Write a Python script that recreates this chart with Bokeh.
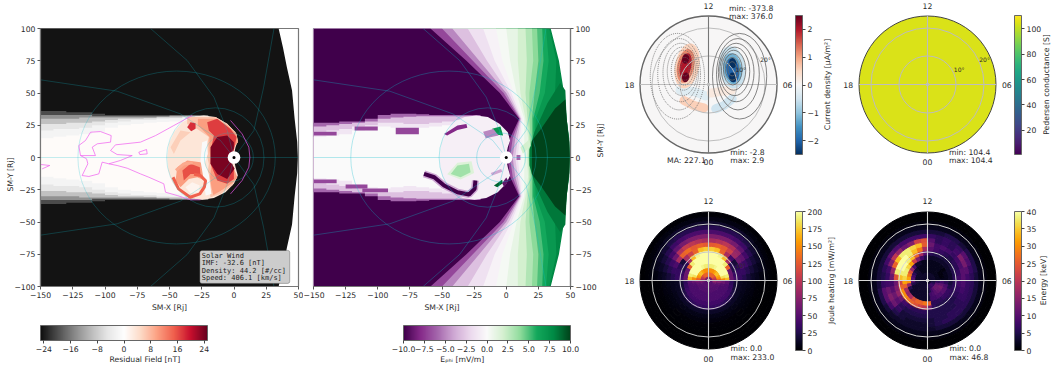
from math import pi
from bokeh.plotting import figure
from bokeh.layouts import row, column
from bokeh.models import (AllLabels, ColorBar, FixedTicker, Label, LinearColorMapper, Range1d, BoxAnnotation)
from bokeh.core.properties import value
from bokeh.palettes import interp_palette, Viridis256, Inferno256
from bokeh.embed import file_html
from bokeh.resources import INLINE

FONT = "DejaVu Sans"
TXT = "#2a2a2a"
FS = "7.7px"

# ---------------- tick labels ----------------
x_ticks = [-150, -125, -100, -75, -50, -25, 0, 25, 50]
y_ticks = [-100, -75, -50, -25, 0, 25, 50, 75, 100]
resid_ticks = [-24, -16, -8, 0, 8, 16, 24]
ephi_ticks = [-10.0, -7.5, -5.0, -2.5, 0.0, 2.5, 5.0, 7.5, 10.0]
curr_ticks = [-2, -1, 0, 1, 2]
pede_ticks = [20, 40, 60, 80, 100]
joule_ticks = [0, 25, 50, 75, 100, 125, 150, 175, 200]
energy_ticks = [0, 5, 10, 15, 20, 25, 30, 35, 40]

# ---------------- colour maps ----------------
resid_cols = ["#0f0f0f", "#4d4d4d", "#878787", "#bababa", "#e6e6e6", "#ffffff",
              "#fddbc7", "#fca082", "#f0604d", "#c8102e", "#67001f"]
ephi_cols = ["#40004b", "#862a8a", "#a466ac", "#cfa8d4", "#ecd9ee", "#fbfbfb",
             "#d4f0cf", "#90dc9c", "#14a85c", "#008a45", "#00441b"]
curr_cols = ["#053061", "#2166ac", "#4393c3", "#92c5de", "#d1e5f0", "#f7f7f7",
             "#fddbc7", "#f4a582", "#d6604d", "#b2182b", "#67001f"]
resid_map = LinearColorMapper(palette=interp_palette(resid_cols, 256), low=-25, high=25)
ephi_map = LinearColorMapper(palette=interp_palette(ephi_cols, 256), low=-10, high=10)
curr_map = LinearColorMapper(palette=interp_palette(curr_cols, 256), low=-2.5, high=2.5)
pede_map = LinearColorMapper(palette=Viridis256, low=1, high=110.5)
joule_map = LinearColorMapper(palette=Inferno256, low=0, high=200)
energy_map = LinearColorMapper(palette=Inferno256, low=0, high=40)

# ---------------- equatorial panels: shared geometry ----------------
bow_x = [34.6, 38, 41, 45, 47, 49, 49.5, 49, 47, 45, 41, 38, 34.6, -150, -150]
bow_y = [100, 85, 70, 52, 30, 12, 0, -12, -30, -52, -70, -85, -100, -100, 100]

disc_x = [-51.8, -50.5, -46.6, -40.2, -32.4, -23.4, -14.3, -5.3, 1.2, 3, 1.2, -0.4,
          1.2, 3, -0.1, -6.6, -15.6, -24.7, -33.7, -41.5, -47.9, -51]
disc_y = [0.2, 10.6, 19.6, 27.4, 31.3, 32.6, 31.3, 26.1, 19.6, 13.2, 8, 0.2,
          -7.5, -14, -20.4, -26.9, -31.3, -32.8, -31.3, -26.9, -19.1, -10]

tail_steps = [-150, -140, -130, -120, -110, -100, -90, -80, -70, -60, -50, -40, -30, -20]
resid_tail_v = [-20, -14, -9, -5, -2, 0.4]
resid_tail_up = [
    [36, 36, 35, 35, 34, 33, 33, 33, 33, 33, 33, 33, 33],
    [33, 33, 33, 33, 32, 32, 32, 32, 32, 32, 32.5, 32.5, 32.5],
    [30, 30, 30, 31, 31, 31, 31, 31, 31, 31.5, 32, 32, 32],
    [26, 26, 27, 27, 28, 29, 30, 30, 30.5, 31, 31, 31.5, 32],
    [21, 22, 22, 23, 25, 27, 28, 29, 29, 30, 30.5, 31, 31.5],
    [15, 16, 17, 18, 20, 23, 25, 26, 27, 27.5, 28, 30, 31],
]
ephi_tail_v = [-6, -3, -1.2, 0]
ephi_tail_up = [
    [27, 27, 28, 28, 30, 33, 34, 34, 33.5, 33, 33, 33, 33],
    [24, 25, 26, 27, 28, 30, 31, 31.5, 32, 32, 32, 32, 32],
    [20, 21, 22, 24, 25, 27, 27, 26, 26, 27, 28, 29, 30],
    [16, 17, 18, 21, 23, 24, 23, 22, 23, 24, 25, 26, 27],
]


def stairs(up):
    xs, ys = [], []
    for i, u in enumerate(up):
        xs += [tail_steps[i], tail_steps[i + 1]]
        ys += [u, u]
    return xs + xs[::-1], ys + [-u for u in ys[::-1]]


# residual field blotches inside the disc
resid_blob_v = [3.5, 7, 10, 17, 24, 10, 16, 1.5, 18, -1, 6]
resid_blob_x = [
    disc_x,
    [-36.3, -14.3, -5.3, 2, 3, -0.1, -2.7, -0.1, 2.5, -1.4, -10.5, -18.2, -19.5, -20.8, -19.5, -22, -19.5, -28.5, -36.3],
    [-28, -14.3, -5.3, 2, 3, -0.1, -2.7, -0.1, 2.5, -1.4, -10.5, -16, -17.5, -18.5, -17.5, -19, -19, -24, -28],
    [-20.8, -13, -2.7, 2, -0.1, -2.7, -0.1, -0.1, -5.3, -13, -18.2, -17.5, -15.6, -19.5],
    [-13, -5.3, -0.1, -0.1, -4.5, 0.5, -5.3, -13, -18.2, -18.2],
    [-44, -36.3, -26, -20.8, -22.8, -28.5, -35, -41.5, -45.3],
    [-40, -33.7, -26.5, -26, -33.7, -38.9],
    [-37.6, -32.4, -26.5, -27.5, -33.7],
    [-36.3, -33.7, -29.8, -29.8, -33.2],
    [-24.7, -20.8, -20.3, -22.8, -19.5, -17.5, -22, -23.4, -26],
    [-49.2, -41.5, -33.7, -41.5, -46.6],
]
resid_blob_y = [
    disc_y,
    [31.3, 31.3, 26.1, 18.3, 11.9, 8, 0.2, -8.8, -15.3, -21.7, -28.2, -30.8, -23, -15.3, -4.9, 5.4, 15.8, 22, 26],
    [30, 30, 25, 18.3, 11.9, 8, 0.2, -8.8, -15.3, -20, -26, -29, -23, -15.3, -4.9, 5.4, 15.8, 21, 25],
    [27.4, 30, 22, 15.8, 5.4, 0.2, -10.1, -16.6, -20.4, -17.8, -4.9, 8, 17, 21],
    [15.8, 17, 11.9, 6.7, 0.2, -8.8, -16.6, -12.7, -4.9, 8],
    [-7.5, -2.3, -3.6, -10.1, -17.8, -15.3, -16.6, -23, -17.8],
    [-10.1, -4.9, -7.5, -12.7, -12.7, -17.8],
    [-23, -19.1, -21.7, -26.9, -27.7],
    [23.5, 27.4, 26.6, 22.2, 20.4],
    [11.9, 13.2, 2.8, -4.9, -12.7, -28.2, -29.5, -17.8, -2.3],
    [8, 20.9, 19.6, 13.2, 2.8],
]
resid_hook_x = [[-47.3, -43, -34, -26.5, -23, -22, -26, -31],
                [-45, -39, -32]]
resid_hook_y = [[-15.3, -24.3, -30.8, -28.2, -23, -18, -14, -13],
                [-10, -5, -4]]
resid_hook_v = [15, 9]

# magenta contour of the residual field
contour_x = [
    [-32.4, -46.6, -60.8, -72.5, -91.9, -95.7, -90.6, -78.9, -88, -97, -90.6, -82.8, -72.5, -66, -54.4, -53.1, -44, -33.7, -26],
    [-111.2, -103.5, -95.2, -95.7, -106, -109.9, -107.4, -119, -120.3, -115.1, -111.2],
    [-119, -114.3, -113.3, -117.7, -112.5, -104.8, -102.2, -97],
    [-73.8, -67.8, -67.3, -73, -73.8],
    [-150, -142.8, -148.7],
    [-2.7, 6.3, 11.5, 12.3, 11.5, 6.3, -2.7],
]
contour_y = [
    [32.6, 24.8, 17, 11.9, 9.8, 5.4, 2.3, 1.5, -2.3, -4.9, -6.2, -8.3, -12.7, -15.3, -20.4, -26.9, -29.5, -32.8, -32.8],
    [19.6, 20.1, 17, 11.9, 10.6, 8, 1.5, 1.5, 9.3, 13.2, 19.6],
    [1.5, -1, -4.9, -14, -14.7, -12.7, -3.6, -4.9],
    [4.1, 6.2, 2.8, 2.3, 4.1],
    [-5.4, -6.2, -8.8],
    [28.7, 18.3, 8, 0.2, -7.5, -17.8, -28.2],
]

# overlaid coordinate lines
grid_line_x = [
    [-64.7, -36.3, -15.6, -5.3, 0], [-64.7, -36.3, -15.6, -5.3, 0],
    [-150, -90.6, -41.5, -10.5, 0], [-150, -90.6, -41.5, -10.5, 0],
    [31, 23, 15.4, 0], [31, 23, 15.4, 0], [-150, 50],
]
grid_line_y = [
    [100, 75.2, 46.8, 20.9, 0], [-100, -75.2, -46.8, -20.9, 0],
    [60.2, 51.4, 33.8, 13.2, 0], [-60.2, -51.4, -33.8, -13.2, 0],
    [100, 54.5, 20.9, 0], [-100, -54.5, -20.9, 0], [0, 0],
]
grid_oval_x = [-44.5, -14.5, -4]
grid_oval_w = [153, 75.5, 38]
grid_oval_h = [134, 77, 38]

# ---------------- E_phi ----------------
level_y = [100, 75, 50, 30, 15, 0]
level_v = [8, 7, 6, 5, 4, 3, 2, 1, 0.3, -0.5, -1.5, -3, -5, -7, -10]
level_x = [
    [34.6, 41, 45, 47, 49, 49.5],
    [33.5, 39, 38, 27, 24, 21],
    [31, 33, 30, 23, 22, 19],
    [28, 29, 26, 21, 21, 18.5],
    [24, 25, 22, 20, 20, 18],
    [20, 21, 18, 18, 19, 17.5],
    [15, 16, 15, 16.5, 18, 17],
    [9, 9, 11, 15, 17, 16],
    [0, 3, 8, 14, 14, 14],
    [-8, -3, 6, 13, 12, 12],
    [-18, -9, 4, 12, 10.5, 9],
    [-30, -15, 2, 11.5, 9, 7],
    [-42, -21, 0, 11, 7, 5],
    [-50, -26, -2, 10.5, 5, 3],
    [-59, -31, -5, 10, 3, 1],
]
nose_v = [8.5, 10]
nose_x = [
    [18, 22, 32, 42, 46, 47, 49, 49.5, 49, 47, 46, 42, 32, 22, 18],
    [20, 20, 27, 38, 46, 47, 49, 49.5, 49, 47, 46, 38, 27, 20, 20],
]
nose_y = [
    [6, 20, 42, 58, 52, 30, 12, 0, -12, -30, -52, -58, -42, -20, -6],
    [3, 13, 22, 38, 45, 30, 12, 0, -12, -30, -45, -38, -22, -13, -3],
]
ephi_blob_v = [-7, -7, -7, -7, -7, -7, -0.7, -8, 1.5, 3.5, 7, 9, -9, -5, -4, -6, 2]
ephi_blob_x = [
    [-150, -132, -132, -150], [-118, -100, -100, -118], [-86, -68, -68, -86],
    [-150, -132, -132, -150], [-125, -108, -108, -125], [-112, -92, -92, -112],
    disc_x,
    [-48.4, -38, -31, -30.3, -38, -46],
    [-46, -38, -27, -25, -35.5],
    [-43.2, -38, -29, -27.7, -35.5],
    [-11, -4.5, -2.4, -8.4],
    [-9.6, -3.2, -2.7, -7],
    [-3.2, 0, 1.5, -1.5],
    [-18, -10, -6, -16],
    [-12, -4, -3, -11],
    [8, 11, 11, 8],
    [11, 18, 19, 13],
]
ephi_blob_y = [
    [20, 20, 17, 17], [24, 24, 21, 21], [23, 23, 18, 18],
    [-17, -17, -20, -20], [-21, -21, -24, -24], [-24, -24, -27, -27],
    disc_y,
    [18.3, 24.8, 26, 23, 21.4, 17],
    [-13, -4, -3, -12, -17],
    [-12.7, -6.2, -4.9, -11.4, -15.3],
    [22.2, 24, 17, 17.8],
    [-21.7, -17.3, -19.9, -23],
    [-20, -15.5, -18, -23],
    [20, 22, 17, 15],
    [-12, -9, -11, -14],
    [2, 2, -2, -2],
    [8, 14, 9, 3],
]
hook_x = [-64, -56, -48.4, -38, -29, -24.6, -24]
hook_y = [-12.7, -15.3, -21.7, -26.9, -28.7, -24.3, -17.8]

# ---------------- polar panels ----------------
ring_edges = [0, 1.5, 3, 4.5, 6, 7.5, 9, 10.5, 12, 13.5, 15, 16.5, 18, 19.5, 21, 22.5, 24]
sector_start = [0, 10, 20, 30, 40, 50, 60, 70, 80, 90, 100, 110, 120, 130, 140, 150, 160, 170,
                180, 190, 200, 210, 220, 230, 240, 250, 260, 270, 280, 290, 300, 310, 320, 330, 340, 350]
joule_rings = [
    [70, 70, 70, 70, 70, 70, 70, 70, 70, 70, 70, 70, 70, 70, 70, 70, 70, 70,
     50, 50, 50, 50, 50, 50, 50, 50, 50, 50, 50, 50, 50, 50, 50, 50, 50, 50],
    [90, 100, 110, 120, 130, 130, 130, 130, 130, 130, 130, 130, 130, 130, 120, 110, 100, 90,
     80, 65, 55, 50, 50, 50, 50, 50, 50, 50, 50, 50, 50, 50, 50, 55, 65, 80],
    [130, 150, 160, 170, 170, 160, 150, 150, 150, 150, 150, 150, 160, 170, 170, 160, 150, 130,
     70, 55, 50, 48, 48, 48, 48, 48, 48, 48, 48, 48, 48, 48, 48, 50, 55, 70],
    [150, 185, 200, 200, 200, 200, 195, 190, 190, 190, 190, 195, 200, 200, 200, 200, 185, 150,
     60, 48, 45, 45, 45, 45, 45, 45, 45, 45, 45, 45, 45, 45, 45, 45, 48, 60],
    [170, 190, 200, 200, 200, 200, 200, 200, 200, 200, 200, 200, 200, 200, 200, 200, 190, 170,
     50, 45, 45, 45, 45, 45, 45, 45, 45, 45, 45, 45, 45, 45, 45, 45, 45, 50],
    [60, 60, 60, 130, 190, 200, 200, 200, 200, 200, 200, 200, 200, 190, 130, 60, 60, 60,
     32, 35, 38, 40, 40, 40, 40, 40, 40, 40, 40, 40, 40, 40, 40, 38, 35, 32],
    [40, 35, 25, 30, 90, 170, 195, 200, 200, 200, 200, 195, 170, 90, 30, 25, 35, 40,
     18, 20, 24, 28, 30, 32, 34, 34, 34, 34, 34, 34, 32, 30, 28, 24, 20, 18],
    [35, 35, 30, 20, 40, 90, 130, 170, 175, 175, 170, 130, 110, 90, 20, 30, 35, 35,
     12, 12, 13, 14, 14, 14, 14, 14, 14, 14, 14, 14, 14, 14, 14, 13, 12, 12],
    [28, 35, 45, 60, 85, 110, 125, 130, 125, 125, 130, 125, 135, 130, 90, 45, 35, 28,
     10, 10, 9, 9, 8, 8, 8, 8, 8, 8, 8, 8, 8, 8, 9, 9, 10, 10],
    [20, 28, 38, 55, 80, 95, 100, 95, 90, 90, 95, 100, 105, 95, 60, 38, 28, 20,
     8, 7, 6, 6, 5, 5, 5, 5, 5, 5, 5, 5, 5, 5, 6, 6, 7, 8],
    [14, 20, 28, 40, 55, 65, 70, 70, 70, 70, 70, 70, 65, 55, 40, 28, 20, 14,
     5, 5, 4, 4, 3, 3, 3, 3, 3, 3, 3, 3, 3, 3, 4, 4, 5, 5],
    [10, 14, 20, 28, 38, 42, 45, 45, 45, 45, 45, 45, 42, 38, 28, 20, 14, 10,
     3, 3, 2, 2, 2, 2, 2, 2, 2, 2, 2, 2, 2, 2, 2, 2, 3, 3],
    [6, 10, 14, 18, 24, 28, 28, 28, 28, 28, 28, 28, 28, 24, 18, 14, 10, 6,
     2, 2, 1, 1, 1, 1, 1, 1, 1, 1, 1, 1, 1, 1, 1, 1, 2, 2],
    [4, 6, 8, 10, 13, 15, 15, 15, 15, 15, 15, 15, 15, 13, 10, 8, 6, 4,
     1, 1, 0, 0, 0, 0, 0, 0, 0, 0, 0, 0, 0, 0, 0, 0, 1, 1],
    [2, 3, 4, 5, 6, 6, 7, 7, 7, 7, 7, 7, 6, 6, 5, 4, 3, 2,
     0, 0, 0, 0, 0, 0, 0, 0, 0, 0, 0, 0, 0, 0, 0, 0, 0, 0],
    [0, 1, 1, 2, 2, 2, 2, 2, 2, 2, 2, 2, 2, 2, 2, 1, 1, 0,
     0, 0, 0, 0, 0, 0, 0, 0, 0, 0, 0, 0, 0, 0, 0, 0, 0, 0],
]
energy_rings = [
    [3, 3, 3, 3, 3, 3, 3, 3, 3, 3, 3, 3, 3, 3, 3, 3, 3, 3,
     3, 3, 3, 3, 3, 3, 3, 3, 3, 3, 3, 3, 3, 3, 3, 3, 3, 3],
    [3, 3, 3, 3, 3, 3, 3, 3, 3, 3, 3, 3, 3, 3, 3, 3, 3, 3,
     3, 3, 3, 3, 3, 3, 3, 3, 4, 4, 5, 6, 7, 8, 7, 6, 5, 4],
    [2, 2, 2, 2, 2, 2, 2, 2, 2, 2, 2, 2, 2, 3, 3, 3, 3, 3,
     4, 4, 3, 3, 3, 3, 3, 3, 3, 3, 5, 8, 10, 12, 12, 12, 10, 6],
    [2, 1, 1, 1, 2, 2, 2, 2, 2, 2, 2, 2, 2, 3, 4, 6, 8, 10,
     10, 5, 3, 3, 3, 3, 3, 3, 3, 4, 8, 9, 10, 11, 12, 13, 11, 8],
    [2, 2, 2, 1, 2, 2, 2, 2, 2, 2, 2, 3, 3, 8, 16, 24, 28, 32,
     30, 16, 5, 3, 3, 3, 3, 3, 3, 4, 8, 8, 9, 9, 10, 10, 9, 6],
    [3, 3, 3, 3, 3, 3, 3, 3, 3, 5, 8, 14, 22, 32, 36, 38, 38, 36,
     32, 26, 18, 16, 18, 24, 26, 26, 28, 26, 6, 6, 6, 7, 7, 7, 5, 4],
    [6, 5, 5, 4, 4, 4, 5, 5, 6, 10, 18, 26, 34, 38, 40, 40, 38, 34,
     22, 26, 30, 30, 28, 26, 24, 22, 20, 12, 6, 5, 5, 5, 6, 6, 6, 6],
    [8, 7, 6, 6, 5, 6, 7, 8, 10, 18, 28, 34, 38, 40, 40, 40, 38, 24,
     12, 14, 16, 12, 8, 7, 6, 6, 6, 5, 5, 5, 5, 5, 5, 6, 7, 8],
    [10, 10, 9, 8, 7, 8, 9, 8, 12, 25, 34, 36, 38, 38, 34, 26, 16, 12,
     8, 10, 12, 10, 6, 5, 5, 5, 5, 5, 5, 5, 5, 5, 6, 7, 8, 9],
    [8, 10, 13, 14, 8, 6, 7, 6, 10, 24, 22, 14, 12, 16, 20, 14, 8, 7,
     8, 12, 14, 12, 7, 4, 4, 4, 4, 4, 5, 5, 6, 6, 6, 7, 7, 7],
    [6, 7, 9, 10, 7, 6, 7, 6, 7, 8, 8, 8, 8, 9, 10, 8, 6, 5,
     7, 10, 10, 8, 5, 4, 3, 3, 3, 4, 5, 6, 6, 6, 6, 6, 6, 6],
    [4, 5, 5, 5, 4, 5, 5, 4, 4, 4, 4, 4, 4, 4, 4, 4, 4, 4,
     4, 5, 5, 4, 3, 3, 3, 3, 3, 3, 4, 4, 4, 4, 4, 4, 4, 4],
    [2, 2, 2, 2, 2, 2, 2, 2, 2, 2, 2, 2, 2, 2, 2, 2, 2, 2,
     2, 2, 2, 2, 2, 2, 2, 2, 2, 2, 2, 2, 2, 2, 2, 2, 2, 2],
    [1, 1, 1, 1, 1, 1, 1, 1, 1, 1, 1, 1, 1, 1, 1, 1, 1, 1,
     1, 1, 1, 1, 1, 1, 1, 1, 1, 1, 1, 1, 1, 1, 1, 1, 1, 1],
    [0, 0, 0, 0, 0, 0, 0, 0, 0, 0, 0, 0, 0, 0, 0, 0, 0, 0,
     0, 0, 0, 0, 0, 0, 0, 0, 0, 0, 0, 0, 0, 0, 0, 0, 0, 0],
    [0, 0, 0, 0, 0, 0, 0, 0, 0, 0, 0, 0, 0, 0, 0, 0, 0, 0,
     0, 0, 0, 0, 0, 0, 0, 0, 0, 0, 0, 0, 0, 0, 0, 0, 0, 0],
]
# current density blobs: centre, size, tilt, value
curr_x = [-7.5, -8, -8, -8, -8, 8.3, 8.4, 8.5, 8.5, 8.5]
curr_y = [6.5, 6.5, 6.5, 9, 2.5, 6, 5.5, 5, 7.5, 2.5]
curr_w = [8.5, 6, 4, 2.5, 2.5, 9, 6.5, 4.5, 2.5, 2.5]
curr_h = [16, 12, 9, 3.5, 3.5, 15, 11, 8.5, 3.5, 3.5]
curr_a = [-0.2, -0.2, -0.2, -0.2, -0.2, 0.15, 0.15, 0.15, 0.15, 0.15]
curr_v = [0.55, 1.2, 2.0, 2.5, 2.5, -0.55, -1.2, -2.0, -2.5, -2.5]
curr_band_x = [[-8.6, -5, -1.6], [2.5, 5.4, 8.3], [-10, -5, -1], [1, 4, 8]]
curr_band_y = [[-5.6, -7.4, -8.2], [-8.5, -7.4, -5], [-2, -2.5, -4], [-3, -2.5, -2]]
curr_band_v = [0.6, -0.5, -0.3, 0.25]
cont_x = [8.3, 8.3, 8.5, 8.8, 9.2, 9.7, 10.3, 10.9]
cont_y = [5.5, 5.5, 5.3, 5, 4.6, 4.2, 3.6, 2.9]
cont_w = [3, 4.8, 6.6, 8.5, 10.5, 12.5, 15, 19]
cont_h = [5, 8, 11, 14, 17, 20.5, 25, 30]

pede_value = [104.4]


# ---------------- helpers ----------------
def style_axes(p):
    for ax in (p.xaxis[0], p.yaxis[0]):
        ax.major_label_text_font = FONT
        ax.major_label_text_font_size = FS
        ax.major_label_text_color = TXT
        ax.major_label_standoff = 2
        ax.axis_label_text_font = FONT
        ax.axis_label_text_font_size = FS
        ax.axis_label_text_font_style = "normal"
        ax.axis_label_text_color = TXT
        ax.axis_line_color = "#777777"
        ax.axis_line_width = 1.2
        ax.major_tick_line_color = "#555555"
        ax.major_tick_out = 3
        ax.major_tick_in = 0
        ax.minor_tick_line_color = None
    p.xaxis[0].ticker = FixedTicker(ticks=x_ticks)
    p.yaxis[0].ticker = FixedTicker(ticks=y_ticks)
    p.xaxis[0].major_label_overrides = {t: str(t).replace("-", "\u2212") for t in x_ticks}
    p.yaxis[0].major_label_overrides = {t: str(t).replace("-", "\u2212") for t in y_ticks}
    p.xaxis[0].axis_label = "SM-X [Rj]"
    p.yaxis[0].axis_label = "SM-Y [Rj]"
    p.yaxis[0].axis_label_orientation = pi / 2
    p.xaxis[0].axis_label_standoff = 2
    p.yaxis[0].axis_label_standoff = 1
    p.grid.visible = False
    p.outline_line_color = "#777777"
    p.outline_line_width = 1.2


def make_bar(mapper, ticks, labels, **kw):
    return ColorBar(
        color_mapper=mapper,
        ticker=FixedTicker(ticks=ticks),
        major_label_overrides=dict(zip(ticks, labels)),
        major_label_policy=AllLabels(),
        major_label_text_font=FONT,
        major_label_text_font_size=FS,
        major_label_text_color=TXT,
        major_tick_in=0,
        major_tick_out=3,
        major_tick_line_color="#444444",
        minor_tick_line_color=None,
        bar_line_color="#666666",
        label_standoff=2,
        padding=0,
        margin=0,
        background_fill_alpha=0,
        border_line_color=None,
        **kw,
    )


def draw_grid_lines(p, alpha):
    p.multi_line(grid_line_x, grid_line_y, line_color="#10c0d0", line_alpha=alpha, line_width=0.9)
    p.ellipse(x=grid_oval_x, y=[0, 0, 0], width=grid_oval_w, height=grid_oval_h,
              fill_alpha=0, line_color="#10c0d0", line_alpha=alpha, line_width=0.9)


def earth(p):
    p.circle(x=[0], y=[0], radius=4.9, fill_color="white", line_color=None)
    p.circle(x=[0], y=[0], radius=1.2, fill_color="black", line_color=None)


def bar_title(W, centre, text):
    # a thin strip under a panel that holds the colour bar's title
    p = figure(width=W, height=12, min_border=0, x_range=Range1d(0, W), y_range=Range1d(0, 12),
               toolbar_location=None, output_backend="svg")
    p.xaxis.visible = False
    p.yaxis.visible = False
    p.grid.visible = False
    p.outline_line_color = None
    p.text(x=[centre], y=[7], text=[text], text_font=value(FONT), text_font_size=value(FS),
           text_color=TXT, text_align="center", text_baseline="middle")
    return p


# ---------------- left panel ----------------
p1 = figure(width=303, height=354, frame_width=258, frame_height=258,
            min_border_left=40, min_border_right=5, min_border_top=28, min_border_bottom=68,
            x_range=Range1d(-150, 50), y_range=Range1d(-100, 100),
            toolbar_location=None, output_backend="svg")
style_axes(p1)
left_xs = [bow_x]
left_ys = [bow_y]
left_vs = [-24.5]
for v, up in zip(resid_tail_v, resid_tail_up):
    xs, ys = stairs(up)
    left_xs.append(xs)
    left_ys.append(ys)
    left_vs.append(v)
for x, y, v in zip(resid_blob_x, resid_blob_y, resid_blob_v):
    left_xs.append(x)
    left_ys.append(y)
    left_vs.append(v)
p1.patches("xs", "ys", fill_color={"field": "v", "transform": resid_map}, line_color=None,
           source=dict(xs=left_xs, ys=left_ys, v=left_vs))
p1.multi_line("xs", "ys", line_width=3, line_color={"field": "v", "transform": resid_map},
              source=dict(xs=resid_hook_x, ys=resid_hook_y, v=resid_hook_v))
draw_grid_lines(p1, 0.28)
p1.multi_line(contour_x, contour_y, line_color="#ee55ee", line_alpha=0.75, line_width=0.9)
earth(p1)
p1.add_layout(BoxAnnotation(left=-26.5, right=43.2, top=-72, bottom=-97.6, fill_color="#cccccc",
                            fill_alpha=1, line_color="#222222", line_width=1, border_radius=2))
sw_lines = ["Solar Wind", "IMF: -32.6 [nT]", "Density:  44.2 [#/cc]", "Speed:   406.1 [km/s]"]
sw_rows = [-76, -81.7, -87.6, -93.3]
for t, yy in zip(sw_lines, sw_rows):
    p1.add_layout(Label(x=-25, y=yy, text=t, text_font="DejaVu Sans Mono", text_font_size="7px",
                        text_color="#222222", text_baseline="middle"))
p1.add_layout(make_bar(resid_map, resid_ticks, ["\u221224", "\u221216", "\u22128", "0", "8", "16", "24"],
                       orientation="horizontal", width=167, height=15, location=(0, -68)))

# ---------------- middle panel ----------------
p2 = figure(width=317, height=354, frame_width=257, frame_height=258,
            min_border_left=10, min_border_right=50, min_border_top=28, min_border_bottom=68,
            x_range=Range1d(-150, 50), y_range=Range1d(-100, 100), y_axis_location="right",
            toolbar_location=None, output_backend="svg")
style_axes(p2)
mid_xs, mid_ys, mid_vs = [], [], []
for cx, v in zip(level_x, level_v):
    mid_xs.append(cx + cx[-2::-1] + [-150, -150])
    mid_ys.append(level_y + [-y for y in level_y[-2::-1]] + [-100, 100])
    mid_vs.append(v)
for x, y, v in zip(nose_x, nose_y, nose_v):
    mid_xs.append(x)
    mid_ys.append(y)
    mid_vs.append(v)
for v, up in zip(ephi_tail_v, ephi_tail_up):
    xs, ys = stairs(up)
    mid_xs.append(xs)
    mid_ys.append(ys)
    mid_vs.append(v)
for x, y, v in zip(ephi_blob_x, ephi_blob_y, ephi_blob_v):
    mid_xs.append(x)
    mid_ys.append(y)
    mid_vs.append(v)
p2.patches("xs", "ys", fill_color={"field": "v", "transform": ephi_map}, line_color=None,
           source=dict(xs=mid_xs, ys=mid_ys, v=mid_vs))
p2.line(hook_x, hook_y, line_color=ephi_cols[3], line_width=7)
p2.line(hook_x, hook_y, line_color=ephi_cols[0], line_width=4)
draw_grid_lines(p2, 0.35)
earth(p2)
p2.add_layout(make_bar(ephi_map, ephi_ticks,
                       ["\u221210.0", "\u22127.5", "\u22125.0", "\u22122.5", "0.0", "2.5", "5.0", "7.5", "10.0"],
                       orientation="horizontal", width=167, height=15, location=(90, -68)))

# ---------------- polar panels ----------------
DEG = 2.854  # px per degree of colatitude


def polar_fig(W, H, cx, cy):
    p = figure(width=W, height=H, min_border=0,
               x_range=Range1d(-cx / DEG, (W - cx) / DEG), y_range=Range1d(-(H - cy) / DEG, cy / DEG),
               toolbar_location=None, output_backend="svg")
    p.xaxis.visible = False
    p.yaxis.visible = False
    p.grid.visible = False
    p.outline_line_color = None
    return p


def wedges(p, rings, mapper):
    r0, r1, a0, a1, v = [], [], [], [], []
    for i, vals in enumerate(rings):
        for s, val in zip(sector_start, vals):
            r0.append(ring_edges[i])
            r1.append(ring_edges[i + 1])
            a0.append(s)
            a1.append(s + 10)
            v.append(val)
    p.annular_wedge(x=0, y=0, inner_radius="r0", outer_radius="r1", start_angle="a0", end_angle="a1",
                    start_angle_units="deg", end_angle_units="deg",
                    fill_color={"field": "v", "transform": mapper},
                    line_color={"field": "v", "transform": mapper}, line_width=1,
                    source=dict(r0=r0, r1=r1, a0=a0, a1=a1, v=v))


def polar_grid(p, color, vert=None):
    p.circle(x=[0, 0], y=[0, 0], radius=[10, 19.8], fill_alpha=0, line_color=color, line_width=1)
    p.segment(x0=[-24], y0=[0], x1=[24], y1=[0], line_color=color, line_width=1)
    p.segment(x0=[0], y0=[-24], x1=[0], y1=[24], line_color=vert or color, line_width=1.1)
    p.circle(x=[0], y=[0], radius=0.6, fill_color=color, line_color=None)


def put(p, x, y, t, align="center", size=FS, angle=0, color=TXT):
    p.text(x=[x], y=[y], text=[t], text_font=value(FONT), text_font_size=value(size), text_color=color,
           text_align=align, text_baseline="middle", angle=angle)


def hour_labels(p, left, right, top, bottom):
    put(p, 0, top, "12")
    put(p, 0, bottom, "00")
    put(p, left, 0, "18")
    put(p, right, 0, "06")


def vbar(p, mapper, ticks, labels, px, bottom_px, length):
    p.add_layout(make_bar(mapper, ticks, labels, orientation="vertical", width=7, height=length,
                          location=(px, bottom_px)))


# current density
c = polar_fig(220, 180, 88, 84)
c.circle(x=0, y=0, radius=24, fill_color={"field": "v", "transform": curr_map},
         line_color="#666666", line_width=1.4, source=dict(v=[0.0]))
c.multi_line("xs", "ys", line_width=9, line_color={"field": "v", "transform": curr_map},
             source=dict(xs=curr_band_x, ys=curr_band_y, v=curr_band_v), line_cap="round")
c.ellipse(x="x", y="y", width="w", height="h", angle="a",
          fill_color={"field": "v", "transform": curr_map}, line_color=None,
          source=dict(x=curr_x, y=curr_y, w=curr_w, h=curr_h, a=curr_a, v=curr_v))
polar_grid(c, "#bdbdbd", "#777777")
c.ellipse(x=cont_x, y=cont_y, width=cont_w, height=cont_h, fill_alpha=0, line_color="#666666", line_width=0.8)
c.ellipse(x=[-v for v in cont_x], y=cont_y, width=cont_w, height=cont_h, fill_alpha=0,
          line_color="#666666", line_width=0.8, line_dash="1 1")
hour_labels(c, -27.7, 27.7, 27.6, -27.2)
put(c, 11.3, 5.2, "10\u00b0", size="6px")
put(c, 20, 8.6, "20\u00b0", size="6px")
put(c, 7.2, 26.8, "min: -373.8", "left")
put(c, 7.2, 23.7, "max: 376.0", "left")
put(c, 7.6, -23.7, "min: -2.8", "left")
put(c, 7.6, -26.8, "max: 2.9", "left")
put(c, -14.5, -26.8, "MA: 227.1", "left")
vbar(c, curr_map, curr_ticks, ["\u22122", "\u22121", "0", "1", "2"], 175, 26, 139)
put(c, 41.7, 0, "Current density [\u03bcA/m\u00b2]", angle=pi / 2)

# Pedersen conductance
s = polar_fig(212, 180, 87, 84)
s.circle(x=0, y=0, radius=24, fill_color={"field": "v", "transform": pede_map},
         line_color="#444444", line_width=1, source=dict(v=pede_value))
polar_grid(s, "#bdbdbd")
hour_labels(s, -27.8, 27.8, 27.6, -27.2)
put(s, 11.1, 5.1, "10\u00b0", size="6px")
put(s, 20, 8.6, "20\u00b0", size="6px")
put(s, 7.5, -23.7, "min: 104.4", "left")
put(s, 7.5, -26.8, "max: 104.4", "left")
vbar(s, pede_map, pede_ticks, [str(t) for t in pede_ticks], 174, 26, 139)
put(s, 41.6, 0, "Pedersen conductance [S]", angle=pi / 2)

# Joule heating
j = polar_fig(220, 186, 88, 100)
wedges(j, joule_rings, joule_map)
polar_grid(j, "#c8c8c8")
hour_labels(j, -27.7, 27.7, 27.7, -27.6)
put(j, 11.3, 5.2, "10\u00b0", size="6px")
put(j, 7.7, -23.9, "min: 0.0", "left")
put(j, 7.7, -27, "max: 233.0", "left")
vbar(j, joule_map, joule_ticks, [str(t) for t in joule_ticks], 175, 16, 139)
put(j, 43.2, 0, "Joule heating [mW/m\u00b2]", angle=pi / 2)

# Energy
e = polar_fig(212, 186, 87, 100)
wedges(e, energy_rings, energy_map)
polar_grid(e, "#d8d8d8")
hour_labels(e, -27.8, 27.8, 27.7, -27.6)
put(e, 7.7, -23.9, "min: 0.0", "left")
put(e, 7.7, -27, "max: 46.8", "left")
vbar(e, energy_map, energy_ticks, [str(t) for t in energy_ticks], 174, 16, 139)
put(e, 40.6, 0, "Energy [keV]", angle=pi / 2)

left_col = column(p1, bar_title(303, 123.5, "Residual Field [nT]"), spacing=0)
mid_col = column(p2, bar_title(317, 183.5, "E\u209a\u2095\u1d62 [mV/m]"), spacing=0)
page = row(left_col, mid_col, column(c, j, spacing=0), column(s, e, spacing=0), spacing=0,
           styles={"margin": "0 0 0 -2px"})
open("out.html", "w").write(file_html(page, INLINE))
